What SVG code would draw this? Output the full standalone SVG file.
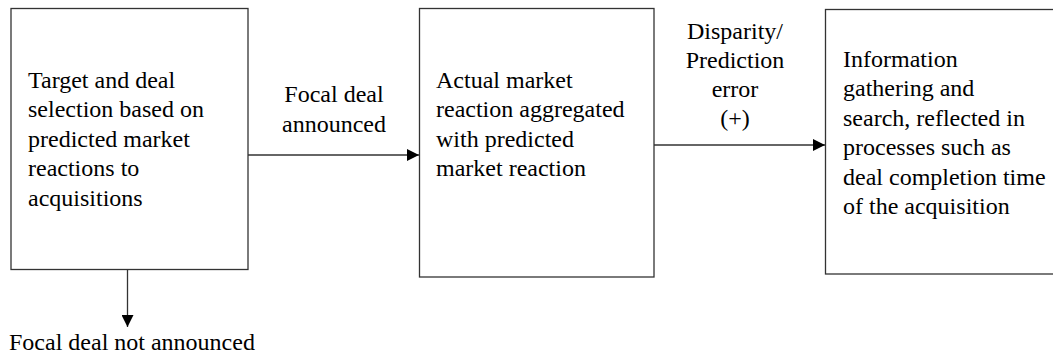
<svg xmlns="http://www.w3.org/2000/svg" width="1053" height="358" viewBox="0 0 1053 358">
<style>
.box{fill:#fff;stroke:#333;stroke-width:1.3}
.t{font-family:'Liberation Serif', 'Times New Roman', serif;font-size:24px;fill:#000}
.c{text-anchor:middle}
.ln{stroke:#333;stroke-width:1.3;fill:none}
</style>
<defs>
<marker id="ah" markerWidth="12" markerHeight="12" refX="12" refY="6" orient="auto" markerUnits="userSpaceOnUse">
<path d="M0,0 L12,6 L0,12 Z" fill="#000"/>
</marker>
</defs>
<g id="connectors">
<line class="ln" x1="248" y1="155" x2="419" y2="155" marker-end="url(#ah)"/>
<line class="ln" x1="654" y1="145" x2="825" y2="145" marker-end="url(#ah)"/>
<line class="ln" x1="127.5" y1="269" x2="127.5" y2="327" marker-end="url(#ah)"/>
<text class="t c" x="334" y="102">Focal deal</text>
<text class="t c" x="334" y="131.5">announced</text>
<text class="t c" x="735" y="39">Disparity/</text>
<text class="t c" x="735" y="68">Prediction</text>
<text class="t c" x="735" y="97">error</text>
<text class="t c" x="735" y="125.5">(+)</text>
<text class="t" x="9" y="350">Focal deal not announced</text>
</g>
<g id="node1">
<rect class="box" x="11" y="8.5" width="237" height="261"/>
<text class="t" x="28" y="87.5">Target and deal</text>
<text class="t" x="28" y="117">selection based on</text>
<text class="t" x="28" y="146.5">predicted market</text>
<text class="t" x="28" y="176">reactions to</text>
<text class="t" x="28" y="205.5">acquisitions</text>
</g>
<g id="node2">
<rect class="box" x="419.5" y="8.5" width="234.5" height="268.5"/>
<text class="t" x="436" y="87.5">Actual market</text>
<text class="t" x="436" y="117">reaction aggregated</text>
<text class="t" x="436" y="146.5">with predicted</text>
<text class="t" x="436" y="176">market reaction</text>
</g>
<g id="node3">
<rect class="box" x="825.5" y="9.5" width="240" height="264.5"/>
<text class="t" x="843" y="66.5">Information</text>
<text class="t" x="843" y="96">gathering and</text>
<text class="t" x="843" y="125.5">search, reflected in</text>
<text class="t" x="843" y="155">processes such as</text>
<text class="t" x="843" y="184.5">deal completion time</text>
<text class="t" x="843" y="214">of the acquisition</text>
</g>
</svg>
